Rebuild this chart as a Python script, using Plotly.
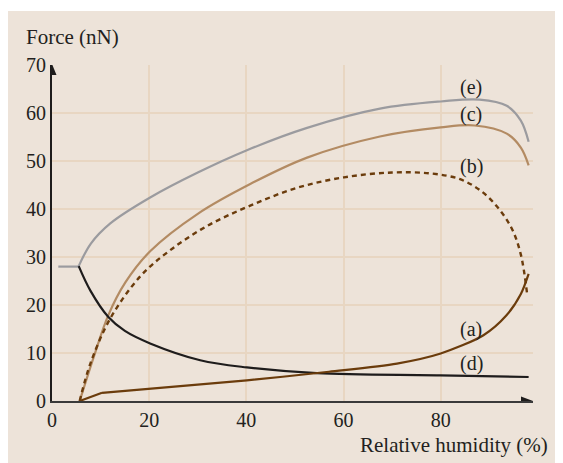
import plotly.graph_objects as go

# ---- data ----
x_ticks = [0, 20, 40, 60, 80]
y_ticks = [0, 10, 20, 30, 40, 50, 60, 70]

stub_x = [1.3, 5.5]
stub_y = [28.0, 28.0]

e_x = [5.5, 8.0, 12.0, 20.2, 30.0, 40.0, 52.5, 67.5, 80.0, 88.0, 93.6, 96.5, 98.1]
e_y = [28.1, 32.8, 37.0, 42.4, 47.6, 52.2, 56.9, 60.9, 62.4, 62.8, 61.5, 58.4, 54.0]

c_x = [5.7, 8.6, 11.6, 15.1, 20.2, 30.0, 40.8, 52.5, 67.5, 80.0, 87.0, 93.6, 96.5, 98.1]
c_y = [0.0, 9.2, 17.9, 24.7, 31.2, 39.0, 45.2, 50.7, 55.1, 57.0, 57.4, 55.7, 52.8, 49.1]

b_x = [5.7, 7.9, 12.0, 18.2, 24.3, 32.0, 40.8, 50.4, 60.1, 70.0, 78.0, 84.0, 88.5, 92.0, 94.7, 96.5, 97.8]
b_y = [0.0, 7.8, 17.2, 26.0, 31.4, 36.5, 40.7, 44.4, 46.6, 47.6, 47.4, 46.2, 43.6, 40.0, 35.8, 30.5, 22.2]

a_x = [5.7, 10.3, 40.1, 57.0, 71.0, 80.0, 88.8, 93.5, 96.5, 98.1]
a_y = [0.0, 1.7, 4.3, 6.1, 7.8, 9.9, 13.7, 17.8, 22.3, 26.5]

d_x = [5.5, 7.9, 11.6, 15.0, 20.2, 30.5, 40.1, 54.5, 79.9, 98.1]
d_y = [28.1, 23.0, 17.5, 14.6, 12.0, 8.5, 7.0, 5.8, 5.35, 5.0]

labels = ["(e)", "(c)", "(b)", "(a)", "(d)"]
label_x = [86.3, 86.3, 86.3, 86.3, 86.3]
label_y = [65.4, 59.6, 48.9, 14.9, 7.8]

GREY = "#9b9b9f"
TAN = "#b38b63"
BROWN = "#6b3c0c"
BLACK = "#1e1c1c"
GRID = "#e8d6c2"
BEIGE = "#ede3d9"
TXT = "#231f20"
FONT = "Liberation Serif"

fig = go.Figure()
fig.add_trace(go.Scatter(x=stub_x, y=stub_y, mode="lines", line=dict(color=GREY, width=2.2)))
fig.add_trace(go.Scatter(x=e_x, y=e_y, mode="lines", line=dict(color=GREY, width=2.2, shape="spline", smoothing=1.0)))
fig.add_trace(go.Scatter(x=c_x, y=c_y, mode="lines", line=dict(color=TAN, width=2.2, shape="spline", smoothing=1.0)))
fig.add_trace(go.Scatter(x=b_x, y=b_y, mode="lines", line=dict(color=BROWN, width=2.4, dash="5px,4px", shape="spline", smoothing=1.0)))
fig.add_trace(go.Scatter(x=d_x, y=d_y, mode="lines", line=dict(color=BLACK, width=2.2, shape="spline", smoothing=1.0)))
# (a): straight first segment, then smooth
fig.add_trace(go.Scatter(x=a_x[:2], y=a_y[:2], mode="lines", line=dict(color=BROWN, width=2.2)))
fig.add_trace(go.Scatter(x=a_x[1:], y=a_y[1:], mode="lines", line=dict(color=BROWN, width=2.2, shape="spline", smoothing=0.8)))

annotations = []
for t, lx, ly in zip(labels, label_x, label_y):
    annotations.append(dict(x=lx, y=ly, xref="x", yref="y", text=t, showarrow=False,
                            font=dict(family=FONT, size=20, color=TXT), xanchor="center", yanchor="middle"))
annotations.append(dict(x=100, y=-0.0565, xref="x", yref="paper", text="100", showarrow=False,
                        font=dict(family=FONT, size=20, color=TXT), xanchor="center", yanchor="middle"))
annotations.append(dict(x=-0.0582, y=1.0833, xref="paper", yref="paper", text="Force (nN)", showarrow=False,
                        font=dict(family=FONT, size=21, color=TXT), xanchor="left", yanchor="middle"))
annotations.append(dict(x=1.0353, y=-0.131, xref="paper", yref="paper", text="Relative humidity (%)", showarrow=False,
                        font=dict(family=FONT, size=21, color=TXT), xanchor="right", yanchor="middle"))

shapes = [
    dict(type="rect", xref="paper", yref="paper", x0=-0.0915, x1=1.2, y0=-0.3, y1=1.1607,
         fillcolor=BEIGE, line=dict(width=0), layer="below"),
    # y-axis arrow head
    dict(type="path", xref="x", yref="y", xsizemode="pixel", ysizemode="pixel", xanchor=0, yanchor=70,
         path="M 0 1 L -4.5 -10 L 4.5 -10 Z", fillcolor=BLACK, line=dict(width=0)),
    # x-axis arrow head
    dict(type="path", xref="x", yref="y", xsizemode="pixel", ysizemode="pixel", xanchor=99, yanchor=0,
         path="M 0 0 L -12 4.5 L -12 -4.5 Z", fillcolor=BLACK, line=dict(width=0)),
]

fig.update_layout(
    width=563, height=463,
    margin=dict(l=44, r=38, t=57, b=70),
    paper_bgcolor="white", plot_bgcolor="white",
    showlegend=False,
    annotations=annotations, shapes=shapes,
    font=dict(family=FONT, size=20, color=TXT),
)
fig.update_xaxes(range=[0, 99], tickvals=x_ticks, showgrid=True, gridcolor=GRID, gridwidth=2,
                 zeroline=False, showline=True, linecolor="#3a3a3a", linewidth=2,
                 ticks="", tickfont=dict(family=FONT, size=20, color=TXT), fixedrange=True)
fig.update_yaxes(range=[0, 70], tickvals=y_ticks, showgrid=True, gridcolor=GRID, gridwidth=2,
                 zeroline=False, showline=True, linecolor=BLACK, linewidth=2,
                 ticks="", tickfont=dict(family=FONT, size=20, color=TXT), fixedrange=True)

fig.write_html("out.html")
